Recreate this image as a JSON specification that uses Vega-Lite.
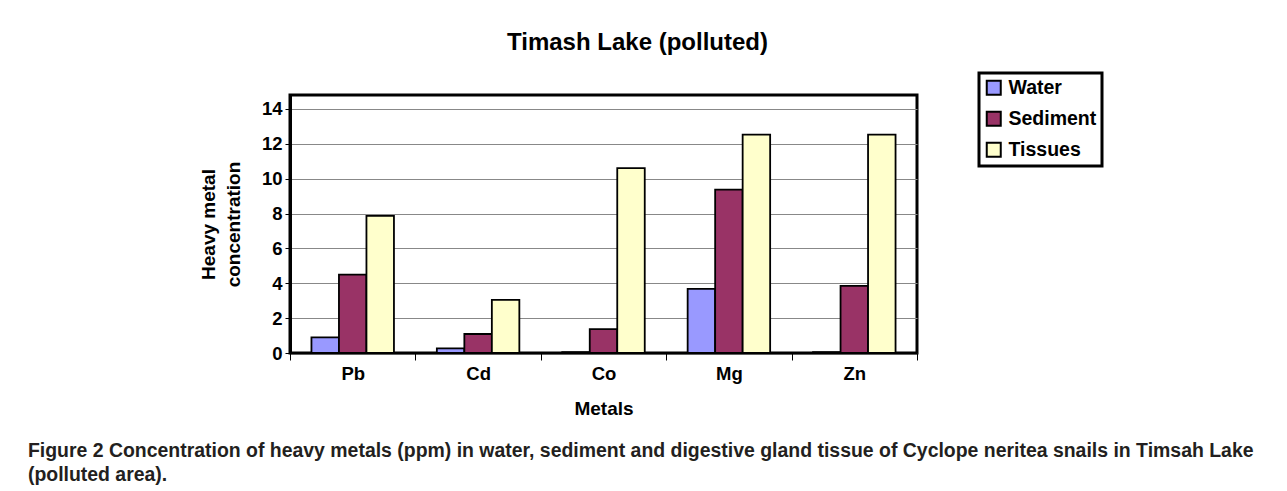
{
  "$schema": "https://vega.github.io/schema/vega-lite/v6.json",
  "autosize": {"type": "pad"},
  "padding": {"left": 27, "top": 29, "right": 5, "bottom": 3},
  "background": "white",
  "config": {
    "font": "Liberation Sans",
    "view": {"stroke": "black", "strokeWidth": 3},
    "legend": {"strokeWidth": 3}
  },
  "title": {
    "text": ["Figure 2 Concentration of heavy metals (ppm) in water, sediment and digestive gland tissue of Cyclope neritea snails in Timsah Lake", "(polluted area)."],
    "orient": "bottom",
    "anchor": "start",
    "frame": "bounds",
    "font": "Liberation Sans",
    "fontSize": 19.45,
    "fontWeight": "bold",
    "color": "#231f20",
    "lineHeight": 24,
    "offset": 22,
    "dx": -170
  },
  "vconcat": [
    {
      "title": {
        "text": "Timash Lake (polluted)",
        "fontSize": 24,
        "fontWeight": "bold",
        "color": "black",
        "anchor": "middle",
        "offset": 40,
        "dx": 34
      },
      "width": 627,
      "height": 258,
      "data": {
        "values": [
          {"metal": "Pb", "sample": "Water", "value": 0.9},
          {"metal": "Pb", "sample": "Sediment", "value": 4.5},
          {"metal": "Pb", "sample": "Tissues", "value": 7.87},
          {"metal": "Cd", "sample": "Water", "value": 0.27},
          {"metal": "Cd", "sample": "Sediment", "value": 1.09},
          {"metal": "Cd", "sample": "Tissues", "value": 3.05},
          {"metal": "Co", "sample": "Water", "value": 0.05},
          {"metal": "Co", "sample": "Sediment", "value": 1.37},
          {"metal": "Co", "sample": "Tissues", "value": 10.6},
          {"metal": "Mg", "sample": "Water", "value": 3.68},
          {"metal": "Mg", "sample": "Sediment", "value": 9.37},
          {"metal": "Mg", "sample": "Tissues", "value": 12.53},
          {"metal": "Zn", "sample": "Water", "value": 0.05},
          {"metal": "Zn", "sample": "Sediment", "value": 3.85},
          {"metal": "Zn", "sample": "Tissues", "value": 12.53}
        ]
      },
      "mark": {"type": "bar", "stroke": "black", "strokeWidth": 1.8},
      "encoding": {
        "x": {
          "field": "metal",
          "type": "nominal",
          "sort": ["Pb", "Cd", "Co", "Mg", "Zn"],
          "scale": {"paddingInner": 0, "paddingOuter": 0},
          "axis": {
            "title": "Metals",
            "labelAngle": 0,
            "labelFontSize": 18.5,
            "labelFontWeight": "bold",
            "labelColor": "black",
            "labelPadding": 4,
            "titleFontSize": 19,
            "titleFontWeight": "bold",
            "titleColor": "black",
            "titlePadding": 17,
            "tickBand": "extent",
            "tickSize": 7,
            "tickColor": "black",
            "domainColor": "black",
            "domainWidth": 1.5,
            "grid": false
          }
        },
        "xOffset": {
          "field": "sample",
          "type": "nominal",
          "sort": ["Water", "Sediment", "Tissues"],
          "scale": {"paddingInner": 0, "paddingOuter": 0.78}
        },
        "y": {
          "field": "value",
          "type": "quantitative",
          "scale": {"domain": [0, 14.8], "nice": false},
          "axis": {
            "title": ["Heavy metal", "concentration"],
            "values": [0, 2, 4, 6, 8, 10, 12, 14],
            "labelFontSize": 18.5,
            "labelFontWeight": "bold",
            "labelColor": "black",
            "labelPadding": 3,
            "tickSize": 5,
            "tickColor": "black",
            "domainColor": "black",
            "domainWidth": 3,
            "gridColor": "#888",
            "gridWidth": 1,
            "titleFontSize": 19,
            "titleFontWeight": "bold",
            "titleColor": "black",
            "titleLineHeight": 25,
            "titlePadding": 18
          }
        },
        "color": {
          "field": "sample",
          "type": "nominal",
          "sort": ["Water", "Sediment", "Tissues"],
          "scale": {"domain": ["Water", "Sediment", "Tissues"], "range": ["#9999FF", "#993366", "#FFFFCC"]},
          "legend": {
            "title": null,
            "orient": "none",
            "legendX": 689,
            "legendY": -22,
            "strokeColor": "black",
            "padding": 5,
            "symbolType": "square",
            "symbolSize": 196,
            "symbolStrokeColor": "black",
            "symbolStrokeWidth": 2,
            "symbolOpacity": 1,
            "labelFontSize": 19.5,
            "labelFontWeight": "bold",
            "labelColor": "black",
            "labelOffset": 5,
            "rowPadding": 8
          }
        }
      }
    }
  ]
}
